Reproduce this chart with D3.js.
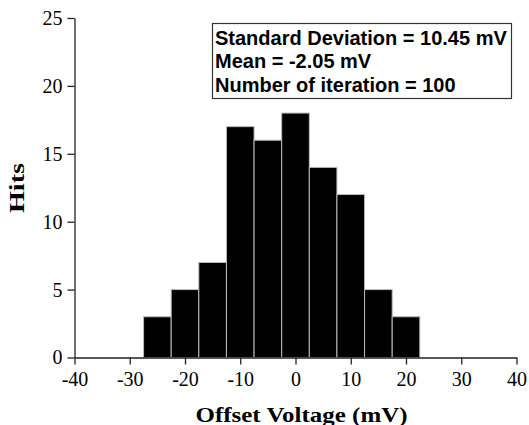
<!DOCTYPE html>
<html>
<head>
<meta charset="utf-8">
<script src="https://cdn.jsdelivr.net/npm/d3@7"></script>
<style>
  body { margin: 0; background: #fff; }
</style>
</head>
<body>
<div id="chart"></div>
<script>
// histogram bins (centre, mV) and hits
const binCentres = [-25, -20, -15, -10, -5, 0, 5, 10, 15, 20]
const hits = [3, 5, 7, 17, 16, 18, 14, 12, 5, 3]
const binWidth = 5
const xTicks = [-40, -30, -20, -10, 0, 10, 20, 30, 40]
const yTicks = [0, 5, 10, 15, 20, 25]
const statLines = ['Standard Deviation = 10.45 mV', 'Mean = -2.05 mV', 'Number of iteration = 100']

const width = 529
const height = 425
const margin = { top: 18, left: 74.5, right: 12.5, bottom: 67.5 }

const svg = d3.select('#chart')
  .append('svg')
  .attr('width', width)
  .attr('height', height)

const x = d3.scaleLinear().domain([-40, 40]).range([margin.left, width - margin.right])
const y = d3.scaleLinear().domain([0, 25]).range([height - margin.bottom, margin.top])

const bins = binCentres.map((c, i) => ({ x0: c - binWidth / 2, x1: c + binWidth / 2, n: hits[i] }))

svg.selectAll('rect.bar')
  .data(bins)
  .enter()
  .append('rect')
  .attr('class', 'bar')
  .attr('x', d => x(d.x0))
  .attr('width', d => x(d.x1) - x(d.x0))
  .attr('y', d => y(d.n))
  .attr('height', d => y(0) - y(d.n))
  .attr('fill', '#000')
  .attr('stroke', '#bbb')
  .attr('stroke-width', 1)

// axes (plain hyphen minus like the original)
const fmt = d => String(d)
const xAxis = svg.append('g')
  .attr('transform', `translate(0,${y(0)})`)
  .call(d3.axisBottom(x).tickValues(xTicks).tickFormat(fmt).tickSize(7).tickSizeOuter(0))

const yAxis = svg.append('g')
  .attr('transform', `translate(${x(-40)},0)`)
  .call(d3.axisLeft(y).tickValues(yTicks).tickFormat(fmt).tickSize(7).tickSizeOuter(0))

svg.selectAll('.domain, .tick line').attr('stroke', '#222').attr('stroke-width', 1.3)
svg.selectAll('.tick text')
  .style('font-family', '"Liberation Serif", "Times New Roman", serif')
  .style('font-size', '20px')
  .attr('fill', '#000')
xAxis.selectAll('.tick text').attr('dy', '0.9em')
yAxis.selectAll('.tick text').attr('x', -12)

// axis titles
svg.append('text')
  .attr('x', x(0) + 6)
  .attr('y', 421.5)
  .attr('text-anchor', 'middle')
  .attr('textLength', 212)
  .attr('lengthAdjust', 'spacingAndGlyphs')
  .style('font-family', '"Liberation Serif", "Times New Roman", serif')
  .style('font-weight', 'bold')
  .style('font-size', '22px')
  .text('Offset Voltage (mV)')

svg.append('text')
  .attr('transform', `translate(24,188) rotate(-90)`)
  .attr('text-anchor', 'middle')
  .attr('textLength', 50)
  .attr('lengthAdjust', 'spacingAndGlyphs')
  .style('font-family', '"Liberation Serif", "Times New Roman", serif')
  .style('font-weight', 'bold')
  .style('font-size', '21px')
  .text('Hits')

// stats box
svg.append('rect')
  .attr('x', 212.5)
  .attr('y', 23.5)
  .attr('width', 299)
  .attr('height', 75)
  .attr('fill', '#fff')
  .attr('stroke', '#333')
  .attr('stroke-width', 1.2)

svg.selectAll('text.stat')
  .data(statLines)
  .enter()
  .append('text')
  .attr('class', 'stat')
  .attr('x', 215)
  .attr('y', (d, i) => 45 + i * 23.3)
  .style('font-family', '"Liberation Sans", Arial, sans-serif')
  .style('font-weight', 'bold')
  .style('font-size', '20px')
  .text(d => d)
</script>
</body>
</html>
